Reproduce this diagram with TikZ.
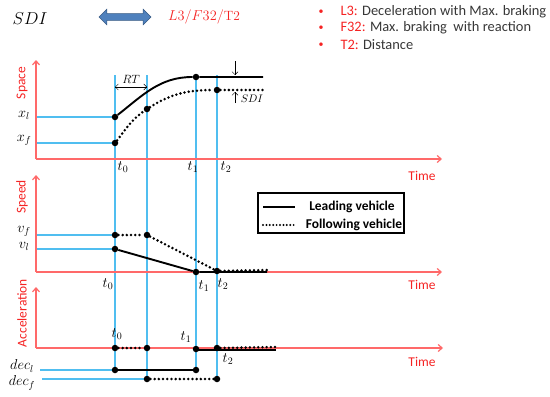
\documentclass[tikz,border=0pt]{standalone}
\usepackage{fontspec}
\newfontfamily\calib{Carlito}
\usetikzlibrary{arrows.meta,shapes.arrows,backgrounds}
\definecolor{axisred}{RGB}{255,105,105}
\definecolor{labred}{RGB}{245,35,35}
\definecolor{lineblue}{RGB}{80,190,240}
\definecolor{arrowblue}{RGB}{79,129,189}
\definecolor{textgray}{RGB}{55,55,55}
\begin{document}
\begin{tikzpicture}
	[x=1bp,y=1bp,
	axis/.style={axisred,line width=1.2bp,-{Straight Barb[length=4bp,width=7bp]}},
	guide/.style={lineblue,line width=1.4bp},
	dot/.style={circle,fill=black,inner sep=0pt,minimum size=6.5bp},
	lead/.style={black,line width=1.9bp},
	follow/.style={black,line width=2.8bp,line cap=round,dash pattern=on 0pt off 4.2bp},
	mlab/.style={font=\fontsize{14}{16}\selectfont},
	axlab/.style={labred,font=\calib\fontsize{13.5}{15}\selectfont},
	bul/.style={labred,font=\calib\fontsize{10}{12}\selectfont},
	btxt/.style={textgray,anchor=west,font=\calib\fontsize{14.5}{16}\selectfont},
	keytxt/.style={font=\calib\bfseries\fontsize{13.5}{15}\selectfont}]
	\useasboundingbox (0,0) rectangle (550,396);
	\node[font=\fontsize{16}{18}\selectfont] (sdi) at (30,377) {$SDI$};
	\node[double arrow,fill=arrowblue,draw=arrowblue!70!black,inner sep=3.2bp,
		minimum height=52bp,double arrow head extend=4.5bp] (both) at (125,379) {};
	\node[labred,font=\fontsize{13.5}{15}\selectfont] (code) at (204,379) {$L3/F32/$T2};
	\node[bul] (bu1) at (321,384) {\textbullet};
	\node[bul] (bu2) at (321,368) {\textbullet};
	\node[bul] (bu3) at (321,351) {\textbullet};
	\node[btxt] (li1) at (337,384) {\textcolor{labred}{L3:} Deceleration with Max. braking};
	\node[btxt] (li2) at (337,368) {\textcolor{labred}{F32:} Max. braking\ \ with reaction};
	\node[btxt] (li3) at (337,351) {\textcolor{labred}{T2:} Distance};
	\coordinate (sO) at (36,237);
	\coordinate (sX) at (442,237);
	\coordinate (sY) at (36,336);
	\coordinate (vO) at (36,124);
	\coordinate (vX) at (442,124);
	\coordinate (vY) at (36,221);
	\coordinate (aO) at (36,48);
	\coordinate (aX) at (443,48);
	\coordinate (aY) at (36,109);
	\coordinate (g0) at (115,321);
	\coordinate (gR) at (147,321);
	\coordinate (g2) at (217,321);
	\coordinate (xlS) at (36,279);
	\coordinate (xfS) at (36,253);
	\coordinate (vfS) at (36,161);
	\coordinate (vlS) at (36,147);
	\coordinate (dlS) at (40,26);
	\coordinate (dfS) at (42,17);
	\node[dot] (sl0) at (115,279) {};
	\node[dot] (sl1) at (196,319) {};
	\coordinate (sl2) at (263,319);
	\node[dot] (sf0) at (115,253) {};
	\node[dot] (sf1) at (147,287) {};
	\node[dot] (sf2) at (217,306) {};
	\coordinate (sf3) at (263,306);
	\node[dot] (vl0) at (115,147) {};
	\node[dot] (vl1) at (196,124) {};
	\coordinate (vl2) at (267,124);
	\node[dot] (vf0) at (115,161) {};
	\node[dot] (vf1) at (147,161) {};
	\node[dot] (vf2) at (217,125) {};
	\coordinate (vf3) at (268,126);
	\node[dot] (a0) at (115,48) {};
	\node[dot] (aR) at (147,48) {};
	\node[dot] (al1) at (115,26) {};
	\node[dot] (al2) at (196,26) {};
	\node[dot] (al3) at (196,47) {};
	\coordinate (al4) at (276,46);
	\node[dot] (af1) at (147,17) {};
	\node[dot] (af2) at (217,17) {};
	\node[dot] (af3) at (217,48) {};
	\coordinate (af4) at (276,49);
	\begin{pgfonlayer}{background}
		\draw[guide] (g0) -- (al1.center);
		\draw[guide] (gR) -- (af1.center);
		\draw[guide] (sl1.center) -- (al2.center);
		\draw[guide] (g2) -- (af2.center);
		\draw[guide] (xlS) -- (sl0);
		\draw[guide] (xfS) -- (sf0);
		\draw[guide] (vfS) -- (vf0);
		\draw[guide] (vlS) -- (vl0);
		\draw[guide] (dlS) -- (al1);
		\draw[guide] (dfS) -- (af1);
		\draw[axis] (sO) -- (sX);
		\draw[axis] (sO) -- (sY);
		\draw[axis] (vO) -- (vX);
		\draw[axis] (vO) -- (vY);
		\draw[axis] (aO) -- (aX);
		\draw[axis] (aO) -- (aY);
	\end{pgfonlayer}
	\draw[lead] (sl0) to[out=38,in=180] (sl1) -- (sl2);
	\draw[follow] (sf0) to[out=52,in=-145] (sf1) to[out=32,in=180] (sf2) -- (sf3);
	\draw[lead] (vl0) -- (vl1) -- (vl2);
	\draw[follow] (vf0) -- (vf1) -- (vf2);
	\draw[follow] (vf2) -- (vf3);
	\draw[follow] (a0) -- (aR);
	\draw[lead] (al1) -- (al2);
	\draw[follow] (af1) -- (af2);
	\draw[lead] (al3) |- (al4);
	\draw[follow] (af3) -- (af4);
	\coordinate (rtA) at (115,309);
	\coordinate (rtB) at (147,309);
	\draw[{Straight Barb[length=3bp]}-{Straight Barb[length=3bp]},thin] (rtA) -- (rtB);
	\node[font=\fontsize{12}{14}\selectfont] (rt) at (131,317) {$RT$};
	\coordinate (sd1) at (235,335);
	\coordinate (sd2) at (235,321);
	\coordinate (sd3) at (235,293);
	\coordinate (sd4) at (235,304);
	\draw[-{Straight Barb[length=3bp]},thin] (sd1) -- (sd2);
	\draw[-{Straight Barb[length=3bp]},thin] (sd3) -- (sd4);
	\node[font=\fontsize{11}{13}\selectfont] (sdil) at (252,297) {$SDI$};
	\node[draw,line width=1.5bp,minimum width=146bp,minimum height=40bp] (leg) at (331,183) {};
	\coordinate (k1a) at (263,189);
	\coordinate (k1b) at (295,189);
	\coordinate (k2a) at (263,171);
	\coordinate (k2b) at (295,171);
	\draw[lead] (k1a) -- (k1b);
	\draw[follow,line width=2.2bp,dash pattern=on 0pt off 3.4bp] (k2a) -- (k2b);
	\node[keytxt] (kl) at (352,189) {Leading vehicle};
	\node[keytxt] (kf) at (354,171) {Following vehicle};
	\node[axlab,rotate=90] (space) at (22,313) {Space};
	\node[axlab,rotate=90] (speed) at (22,199) {Speed};
	\node[axlab,rotate=90] (accel) at (22,83) {Acceleration};
	\node[axlab] (tm1) at (422,220) {Time};
	\node[axlab] (tm2) at (422,111) {Time};
	\node[axlab] (tm3) at (422,34) {Time};
	\node[mlab] (xl) at (24,281) {$x_{l}$};
	\node[mlab] (xf) at (24,256) {$x_{f}$};
	\node[mlab] (vf) at (24,165) {$v_{f}$};
	\node[mlab] (vl) at (24,150) {$v_{l}$};
	\node[mlab] (dl) at (22,30) {$dec_{l}$};
	\node[mlab] (df) at (22,13) {$dec_{f}$};
	\node[mlab] (st0) at (123,229) {$t_{0}$};
	\node[mlab] (st1) at (193,229) {$t_{1}$};
	\node[mlab] (st2) at (226,229) {$t_{2}$};
	\node[mlab] (vt0) at (108,112) {$t_{0}$};
	\node[mlab] (vt1) at (204,110) {$t_{1}$};
	\node[mlab] (vt2) at (223,112) {$t_{2}$};
	\node[mlab] (at0) at (117,62) {$t_{0}$};
	\node[mlab] (at1) at (186,59) {$t_{1}$};
	\node[mlab] (at2) at (228,37) {$t_{2}$};
\end{tikzpicture}
\end{document}
